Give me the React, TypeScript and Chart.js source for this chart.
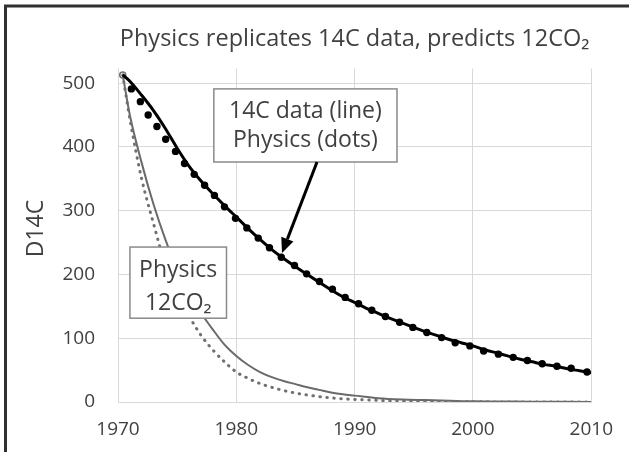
import React, { useEffect, useRef } from 'react';
import { Chart, registerables } from 'chart.js';

Chart.register(...registerables);

const FONT = '"Open Sans", "Noto Sans", sans-serif';
const TEXT = '#404040';

const titleText = 'Physics replicates 14C data, predicts 12CO\u2082';
const yTitle = 'D14C';
const xTicks = [1970, 1980, 1990, 2000, 2010];
const yTicks = [0, 100, 200, 300, 400, 500];

// 14C measured data (solid black line)
const c14Years = [1970.4, 1971, 1972, 1973, 1974, 1975, 1976, 1977, 1978, 1979,
  1980, 1981, 1982, 1983, 1984, 1985, 1986, 1987, 1988, 1989,
  1990, 1991, 1992, 1993, 1994, 1995, 1996, 1997, 1998, 1999,
  2000, 2001, 2002, 2003, 2004, 2005, 2006, 2007, 2008, 2009, 2010];
const c14Values = [513, 503, 481, 457, 429, 398, 370, 347, 327, 308,
  290, 272, 255, 239, 225, 212, 200, 188, 176, 165,
  156, 147, 139, 131, 124, 117, 110, 104, 98, 93,
  88, 82, 77, 72, 67, 63, 59, 56, 52, 49, 46];

// Physics model for 14C (black dots)
const dotYears = [1971.13, 1971.89, 1972.55, 1973.29, 1974.03, 1974.86, 1975.62, 1976.44, 1977.32, 1978.15,
  1979.0, 1979.93, 1980.89, 1981.85, 1982.8, 1983.8, 1984.92, 1985.94, 1987.03, 1988.12,
  1989.2, 1990.33, 1991.45, 1992.6, 1993.8, 1994.92, 1996.1, 1997.35, 1998.5, 1999.74,
  2000.9, 2002.15, 2003.4, 2004.6, 2005.85, 2007.1, 2008.3, 2009.64];
const dotValues = [491, 471, 450, 432, 412, 393, 374, 357, 340, 324,
  306, 288, 273, 257, 242, 227, 214, 201, 189, 177,
  164, 154, 144, 134, 125, 117, 109, 101, 93, 88,
  80, 75, 70, 65, 60, 56, 53, 47];

// Physics 12CO2 curves (gray)
const co2Years = [1970.4, 1971, 1972, 1973, 1974, 1975, 1976, 1977, 1978, 1979,
  1980, 1981, 1982, 1983, 1984, 1985, 1986, 1987, 1988, 1989,
  1990, 1992, 1994, 1996, 1998, 2000, 2005, 2010];
const co2Solid = [513, 450, 375, 310, 255, 208, 170, 140, 114, 90,
  72, 58, 47, 39, 33, 28, 23, 19, 15, 12,
  10, 6, 4, 3, 2, 1, 0.5, 0];
const co2Dotted = [513, 444, 350, 280, 215, 170, 135, 105, 82, 63,
  47, 37, 29, 23, 18, 14, 11, 8.5, 6.5, 5,
  4, 2.5, 1.5, 1, 0.6, 0.3, 0.1, 0];

// annotation anchors in data units
const box1 = { x1: 1978.1, x2: 1993.58, yTop: 491, yBottom: 376.4, lines: ['14C data (line)', 'Physics (dots)'], baselines: [29, 58] };
const box2 = { x1: 1971.01, x2: 1979.17, yTop: 243, yBottom: 131.4, lines: ['Physics', '12CO\u2082'], baselines: [30, 63] };
const arrow = { fromX: 1986.82, fromY: 376.4, toX: 1983.86, toY: 233.5 };

const pts = (xs: number[], ys: number[]) => xs.map((x, i) => ({ x, y: ys[i] }));

const annotationPlugin = {
  id: 'annotations',
  beforeDraw(chart: any) {
    const { ctx, width, height } = chart;
    ctx.save();
    ctx.fillStyle = '#ffffff';
    ctx.fillRect(0, 0, width, height);
    ctx.restore();
  },
  afterDatasetsDraw(chart: any) {
    const { ctx } = chart;
    const xs = chart.scales.x;
    const ys = chart.scales.y;
    const drawBox = (b: any) => {
      const l = xs.getPixelForValue(b.x1);
      const r = xs.getPixelForValue(b.x2);
      const t = ys.getPixelForValue(b.yTop);
      const bt = ys.getPixelForValue(b.yBottom);
      ctx.save();
      ctx.fillStyle = '#ffffff';
      ctx.fillRect(l, t, r - l, bt - t);
      ctx.strokeStyle = '#8a8a8a';
      ctx.lineWidth = 1.5;
      ctx.strokeRect(l, t, r - l, bt - t);
      ctx.fillStyle = TEXT;
      ctx.font = `23px ${FONT}`;
      ctx.textAlign = 'center';
      ctx.textBaseline = 'alphabetic';
      b.lines.forEach((s: string, i: number) => ctx.fillText(s, (l + r) / 2, t + b.baselines[i]));
      ctx.restore();
    };
    drawBox(box1);
    drawBox(box2);

    // arrow
    const x0 = xs.getPixelForValue(arrow.fromX);
    const y0 = ys.getPixelForValue(arrow.fromY);
    const x1 = xs.getPixelForValue(arrow.toX);
    const y1 = ys.getPixelForValue(arrow.toY);
    const ang = Math.atan2(y1 - y0, x1 - x0);
    const headLen = 15;
    const headW = 6.5;
    const bx = x1 - headLen * Math.cos(ang);
    const by = y1 - headLen * Math.sin(ang);
    ctx.save();
    ctx.strokeStyle = '#000';
    ctx.lineWidth = 3;
    ctx.beginPath();
    ctx.moveTo(x0, y0);
    ctx.lineTo(bx, by);
    ctx.stroke();
    ctx.fillStyle = '#000';
    ctx.beginPath();
    ctx.moveTo(x1, y1);
    ctx.lineTo(bx + headW * Math.sin(ang), by - headW * Math.cos(ang));
    ctx.lineTo(bx - headW * Math.sin(ang), by + headW * Math.cos(ang));
    ctx.closePath();
    ctx.fill();
    ctx.restore();
  },
  afterDraw(chart: any) {
    const { ctx, height, width } = chart;
    // y axis title
    ctx.save();
    ctx.translate(36, 228.5);
    ctx.rotate(-Math.PI / 2);
    ctx.fillStyle = TEXT;
    ctx.font = `23px ${FONT}`;
    ctx.textAlign = 'center';
    ctx.textBaseline = 'middle';
    ctx.fillText(yTitle, 0, 0);
    ctx.restore();
    // outer frame (top and left edges)
    ctx.save();
    ctx.strokeStyle = '#303030';
    ctx.lineWidth = 3;
    ctx.beginPath();
    ctx.moveTo(5.5, height);
    ctx.lineTo(5.5, 6);
    ctx.lineTo(width, 6);
    ctx.stroke();
    ctx.restore();
  },
};

export default function App() {
  const ref = useRef<HTMLCanvasElement | null>(null);
  useEffect(() => {
    document.body.style.margin = '0';
    const canvas = ref.current;
    if (!canvas) return;
    const tickFont = { family: FONT, size: 19 };
    const chart = new Chart(canvas, {
      type: 'line',
      data: {
        datasets: [
          {
            label: 'Physics (dots)',
            data: pts(dotYears, dotValues),
            showLine: false,
            pointRadius: 3.7,
            pointBackgroundColor: '#000',
            pointBorderColor: '#000',
            pointBorderWidth: 0,
          },
          {
            label: '14C data',
            data: pts(c14Years, c14Values),
            borderColor: '#000',
            borderWidth: 3,
            pointRadius: 0,
            cubicInterpolationMode: 'monotone',
          },
          {
            label: 'Physics 12CO2 (dotted)',
            data: pts(co2Years, co2Dotted),
            borderColor: '#707070',
            borderWidth: 3,
            borderDash: [0.5, 6.5],
            borderCapStyle: 'round',
            pointRadius: 0,
            cubicInterpolationMode: 'monotone',
          },
          {
            label: 'Physics 12CO2',
            data: pts(co2Years, co2Solid),
            borderColor: '#6a6a6a',
            borderWidth: 2,
            pointRadius: (c: any) => (c.dataIndex === 0 ? 3 : 0),
            pointBackgroundColor: '#ffffff',
            pointBorderColor: '#707070',
            pointBorderWidth: 1.5,
            cubicInterpolationMode: 'monotone',
          },
        ],
      },
      options: {
        animation: false,
        responsive: false,
        devicePixelRatio: 1,
        layout: { padding: { left: 0, right: 25, top: 0, bottom: 0 } },
        plugins: {
          legend: { display: false },
          tooltip: { enabled: false },
          title: {
            display: true,
            text: titleText,
            fullSize: false,
            color: TEXT,
            font: { family: FONT, size: 23.5, weight: 'normal' },
            padding: { top: 24.9, bottom: 15.4 },
          },
        },
        scales: {
          x: {
            type: 'linear',
            min: 1970,
            max: 2010,
            afterBuildTicks: (s: any) => { s.ticks = xTicks.map((v) => ({ value: v })); },
            afterFit: (s: any) => { s.height = 50; },
            ticks: { color: TEXT, font: tickFont, padding: 16, callback: (v: any) => String(v) },
            grid: { color: '#d9d9d9', lineWidth: 1, drawTicks: false },
            border: { color: '#d9d9d9' },
          },
          y: {
            type: 'linear',
            min: 0,
            max: 523,
            afterBuildTicks: (s: any) => { s.ticks = yTicks.map((v) => ({ value: v })); },
            afterFit: (s: any) => { s.width = 118; },
            ticks: { color: TEXT, font: tickFont, padding: 23, callback: (v: any) => String(v) },
            grid: { color: '#d9d9d9', lineWidth: 1, drawTicks: false },
            border: { color: '#d9d9d9' },
          },
        },
      },
      plugins: [annotationPlugin],
    } as any);
    return () => chart.destroy();
  }, []);
  return <canvas ref={ref} width={629} height={452} style={{ display: 'block' }} />;
}
